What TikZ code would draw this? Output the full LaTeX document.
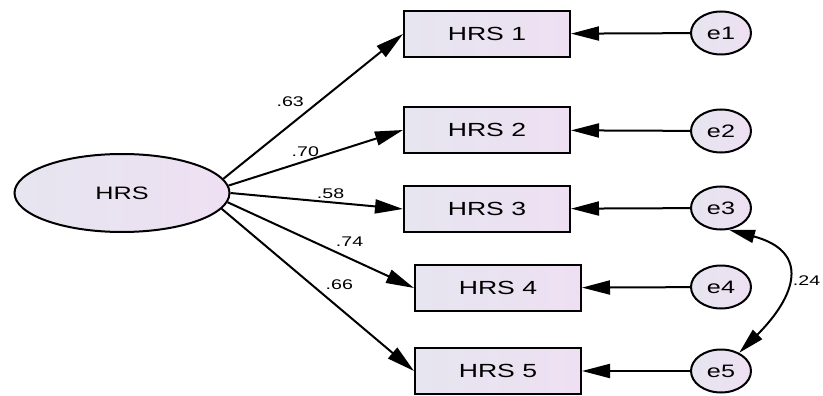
\documentclass[tikz,border=0pt]{standalone}
\usepackage{fontspec}
\setmainfont{Liberation Sans}[FakeStretch=1.4]
\usetikzlibrary{arrows.meta, shapes.geometric}
\definecolor{lavA}{RGB}{230,229,240}
\definecolor{lavB}{RGB}{238,224,242}
\tikzset{
  latent/.style   = {draw, ellipse, line width=2pt, left color=lavA,
                     right color=lavB, minimum width=215pt, minimum height=78pt,
                     font=\fontsize{18}{20}\selectfont},
  observed/.style = {draw, rectangle, line width=2pt, left color=lavA,
                     right color=lavB, minimum width=166pt, minimum height=46pt,
                     font=\fontsize{19}{21}\selectfont},
  errnode/.style  = {draw, ellipse, line width=2pt, left color=lavA,
                     right color=lavB, minimum width=60pt, minimum height=43pt,
                     inner sep=0pt, font=\fontsize{18}{20}\selectfont},
  coef/.style     = {font=\fontsize{14}{16}\selectfont, inner sep=3pt},
  path/.style     = {-{Triangle[length=28pt, width=14pt]}, line width=2pt},
  cov/.style      = {{Triangle[length=26pt, width=13pt]}-{Triangle[length=26pt, width=13pt]},
                     line width=2pt},
}

\begin{document}
\begin{tikzpicture}[x=1pt, y=-1pt]
    \useasboundingbox (0,0) rectangle (823,396);

    % --- factor ---------------------------------------------------------
    \node[latent] (hrs) at (122,193) {HRS};

    % --- indicators -----------------------------------------------------
    \node[observed] (b1) at (487,34)  {HRS 1};
    \node[observed] (b2) at (487,130) {HRS 2};
    \node[observed] (b3) at (487,209) {HRS 3};
    \node[observed] (b4) at (498,288) {HRS 4};
    \node[observed] (b5) at (498,371) {HRS 5};

    % --- error terms ----------------------------------------------------
    \node[errnode] (e1) at (721,33)  {e1};
    \node[errnode] (e2) at (721,131) {e2};
    \node[errnode] (e3) at (721,208) {e3};
    \node[errnode] (e4) at (721,287) {e4};
    \node[errnode] (e5) at (721,371) {e5};

    % --- loadings -------------------------------------------------------
    \draw[path] (hrs.8)  -- node[coef, pos=0.47, above left]  {.63} (b1.west);
    \draw[path] (hrs.4)  -- node[coef, pos=0.44, above]       {.70} (b2.west);
    \draw[path] (hrs.0)  -- node[coef, pos=0.58, above]       {.58} (b3.west);
    \draw[path] (hrs.-5) -- node[coef, pos=0.56, above right] {.74} (b4.west);
    \draw[path] (hrs.-9) -- node[coef, pos=0.52, above right] {.66} (b5.west);

    % --- residuals ------------------------------------------------------
    \foreach \i in {1,...,5}
      \draw[path] (e\i) -- (b\i);

    % --- correlated errors ----------------------------------------------
    \draw[cov] (e3.-70) .. controls +(-15:85pt) and +(45:80pt) ..
      node[coef, right, pos=0.52, xshift=3pt] {.24} (e5.45);
\end{tikzpicture}
\end{document}
